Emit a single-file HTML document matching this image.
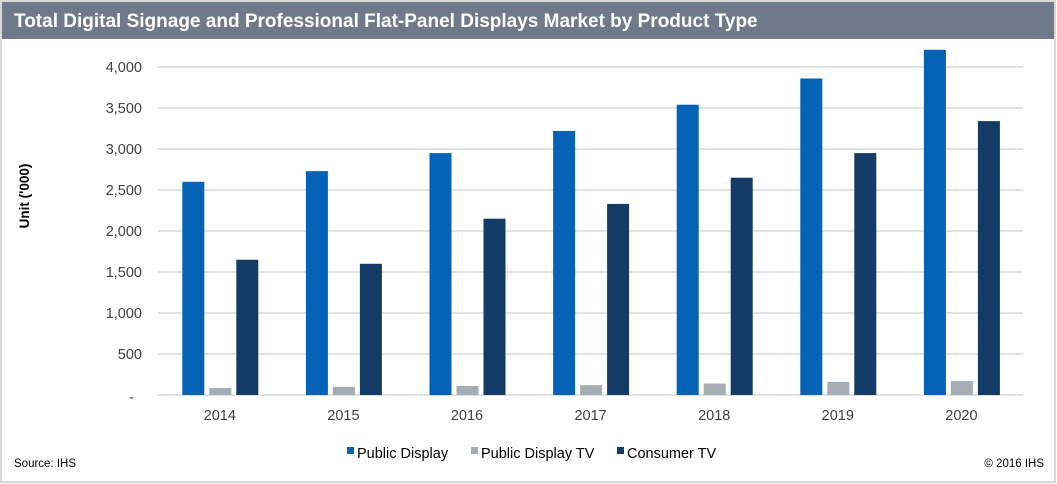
<!DOCTYPE html>
<html><head><meta charset="utf-8"><style>
html,body{margin:0;padding:0;background:#fff;}
svg{display:block;font-family:"Liberation Sans",Arial,sans-serif;}
</style></head><body>
<svg width="1057" height="484" viewBox="0 0 1057 484" xmlns="http://www.w3.org/2000/svg">
<rect x="0" y="0" width="1057" height="484" fill="#fff"/>
<rect x="1" y="1" width="1054" height="481" fill="none" stroke="#d9d9d9" stroke-width="2"/>
<rect x="2" y="2" width="1052" height="37" fill="#6e7a89"/>
<text x="14" y="27" font-size="19" font-weight="bold" fill="#fff">Total Digital Signage and Professional Flat-Panel Displays Market by Product Type</text>
<g stroke="#d9d9d9" stroke-width="1.5">
<line x1="158" y1="67" x2="1023" y2="67"/>
<line x1="158" y1="108" x2="1023" y2="108"/>
<line x1="158" y1="149" x2="1023" y2="149"/>
<line x1="158" y1="190" x2="1023" y2="190"/>
<line x1="158" y1="231" x2="1023" y2="231"/>
<line x1="158" y1="272" x2="1023" y2="272"/>
<line x1="158" y1="313" x2="1023" y2="313"/>
<line x1="158" y1="354" x2="1023" y2="354"/>
<line x1="158" y1="395" x2="1023" y2="395"/>
</g>
<g font-size="14.5" fill="#404040" text-anchor="end">
<text x="142" y="72">4,000</text>
<text x="142" y="113">3,500</text>
<text x="142" y="154">3,000</text>
<text x="142" y="195">2,500</text>
<text x="142" y="236">2,000</text>
<text x="142" y="277">1,500</text>
<text x="142" y="318">1,000</text>
<text x="142" y="359">500</text>
<text x="134" y="402">-</text>
</g>
<text transform="translate(29,196) rotate(-90)" font-size="13.5" font-weight="bold" fill="#000" text-anchor="middle">Unit ('000)</text>
<g id="bars"></g>
<g font-size="14.5" fill="#404040" text-anchor="middle" id="xl"></g>
<rect x="347" y="447" width="7" height="7" fill="#0563b5"/>
<text x="357" y="458" font-size="14.5" fill="#000">Public Display</text>
<rect x="471" y="447" width="7" height="7" fill="#a6acb3"/>
<text x="481" y="458" font-size="14.5" fill="#000">Public Display TV</text>
<rect x="617" y="447" width="7" height="7" fill="#133b66"/>
<text x="627" y="458" font-size="14.5" fill="#000">Consumer TV</text>
<text x="14" y="467" font-size="11.5" fill="#000">Source: IHS</text>
<text x="1044" y="467" font-size="11.5" fill="#000" text-anchor="end">© 2016 IHS</text>
<script>
var a=[2600,2730,2950,3220,3540,3860,4210],b=[85,100,110,120,140,160,170],c=[1650,1600,2150,2330,2650,2950,3340];
var ns="http://www.w3.org/2000/svg",g=document.getElementById("bars"),xl=document.getElementById("xl");
function r(x,v,col){var h=v*0.082,e=document.createElementNS(ns,"rect");e.setAttribute("x",x);e.setAttribute("y",395-h);e.setAttribute("width",22);e.setAttribute("height",h);e.setAttribute("fill",col);g.appendChild(e);}
for(var i=0;i<7;i++){var cx=219.8+i*123.6;r(cx-37.5,a[i],"#0563b5");r(cx-10.5,b[i],"#a6acb3");r(cx+16.5,c[i],"#133b66");
var t=document.createElementNS(ns,"text");t.setAttribute("x",cx);t.setAttribute("y",420);t.textContent=2014+i;xl.appendChild(t);}
</script>
</svg>
</body></html>
